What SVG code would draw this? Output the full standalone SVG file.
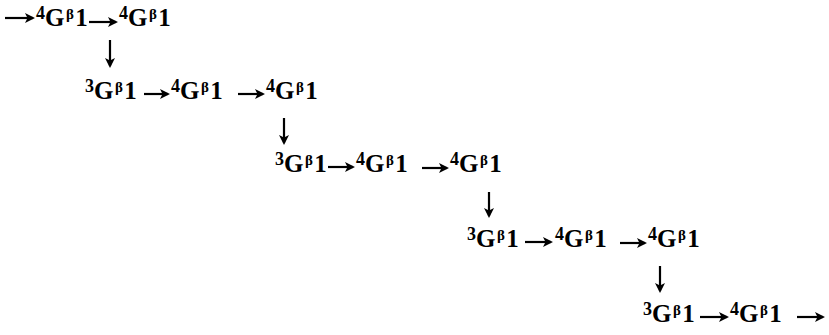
<svg xmlns="http://www.w3.org/2000/svg" width="829" height="335" viewBox="0 0 829 335">
<style>
.n{font-family:"Liberation Serif","Times New Roman",serif;font-weight:bold;font-size:25px;fill:#000}
.s{font-size:18px}
.b{font-size:15px}
.c line{stroke:#000;stroke-width:2.2;marker-end:url(#ah)}
</style>
<defs>
<marker id="ah" viewBox="0 0 10 10" refX="8" refY="5" markerWidth="10" markerHeight="10" markerUnits="userSpaceOnUse" orient="auto">
<path d="M0,0 L10,5 L0,10 L2.5,5 z" fill="#000"/>
</marker>
</defs>
<rect width="829" height="335" fill="#fff"/>
<g id="connectors" class="c">
<line x1="5" y1="18" x2="33" y2="18"/>
<line x1="89" y1="22" x2="116" y2="22"/>
<line x1="110" y1="40" x2="110" y2="66"/>
<line x1="144" y1="94" x2="168" y2="94"/>
<line x1="238" y1="94" x2="263" y2="94"/>
<line x1="284" y1="118" x2="284" y2="143"/>
<line x1="328" y1="167" x2="353" y2="167"/>
<line x1="422" y1="168" x2="447" y2="168"/>
<line x1="489" y1="192" x2="489" y2="216"/>
<line x1="525" y1="242" x2="551" y2="242"/>
<line x1="620" y1="243" x2="645" y2="243"/>
<line x1="660" y1="266" x2="660" y2="291"/>
<line x1="700" y1="317" x2="727" y2="317"/>
<line x1="797" y1="317" x2="823" y2="317"/>
</g>
<g id="n1"><text class="n" x="36" y="26"><tspan class="s" dy="-7">4</tspan><tspan dy="7">G</tspan><tspan class="b" dx="1.5" dy="-7">β</tspan><tspan dx="1.5" dy="7">1</tspan></text></g>
<g id="n2"><text class="n" x="119" y="26"><tspan class="s" dy="-7">4</tspan><tspan dy="7">G</tspan><tspan class="b" dx="1.5" dy="-7">β</tspan><tspan dx="1.5" dy="7">1</tspan></text></g>
<g id="n3"><text class="n" x="85" y="99"><tspan class="s" dy="-7">3</tspan><tspan dy="7">G</tspan><tspan class="b" dx="1.5" dy="-7">β</tspan><tspan dx="1.5" dy="7">1</tspan></text></g>
<g id="n4"><text class="n" x="171" y="99"><tspan class="s" dy="-7">4</tspan><tspan dy="7">G</tspan><tspan class="b" dx="1.5" dy="-7">β</tspan><tspan dx="1.5" dy="7">1</tspan></text></g>
<g id="n5"><text class="n" x="266" y="99"><tspan class="s" dy="-7">4</tspan><tspan dy="7">G</tspan><tspan class="b" dx="1.5" dy="-7">β</tspan><tspan dx="1.5" dy="7">1</tspan></text></g>
<g id="n6"><text class="n" x="275" y="172"><tspan class="s" dy="-7">3</tspan><tspan dy="7">G</tspan><tspan class="b" dx="1.5" dy="-7">β</tspan><tspan dx="1.5" dy="7">1</tspan></text></g>
<g id="n7"><text class="n" x="356" y="172"><tspan class="s" dy="-7">4</tspan><tspan dy="7">G</tspan><tspan class="b" dx="1.5" dy="-7">β</tspan><tspan dx="1.5" dy="7">1</tspan></text></g>
<g id="n8"><text class="n" x="450" y="172"><tspan class="s" dy="-7">4</tspan><tspan dy="7">G</tspan><tspan class="b" dx="1.5" dy="-7">β</tspan><tspan dx="1.5" dy="7">1</tspan></text></g>
<g id="n9"><text class="n" x="467" y="247"><tspan class="s" dy="-7">3</tspan><tspan dy="7">G</tspan><tspan class="b" dx="1.5" dy="-7">β</tspan><tspan dx="1.5" dy="7">1</tspan></text></g>
<g id="n10"><text class="n" x="555" y="247"><tspan class="s" dy="-7">4</tspan><tspan dy="7">G</tspan><tspan class="b" dx="1.5" dy="-7">β</tspan><tspan dx="1.5" dy="7">1</tspan></text></g>
<g id="n11"><text class="n" x="648" y="247"><tspan class="s" dy="-7">4</tspan><tspan dy="7">G</tspan><tspan class="b" dx="1.5" dy="-7">β</tspan><tspan dx="1.5" dy="7">1</tspan></text></g>
<g id="n12"><text class="n" x="643" y="322"><tspan class="s" dy="-7">3</tspan><tspan dy="7">G</tspan><tspan class="b" dx="1.5" dy="-7">β</tspan><tspan dx="1.5" dy="7">1</tspan></text></g>
<g id="n13"><text class="n" x="730" y="322"><tspan class="s" dy="-7">4</tspan><tspan dy="7">G</tspan><tspan class="b" dx="1.5" dy="-7">β</tspan><tspan dx="1.5" dy="7">1</tspan></text></g>
</svg>
